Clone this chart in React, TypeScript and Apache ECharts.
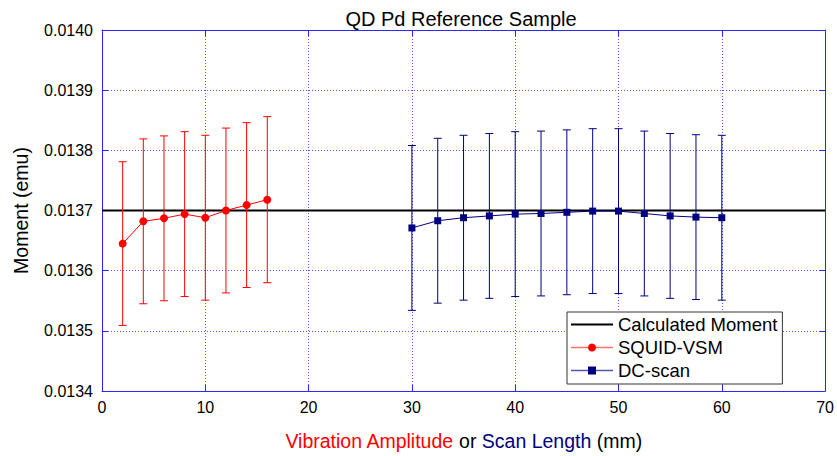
import React, { useEffect, useRef } from "react";
import * as echarts from "echarts";

const FONT = "Liberation Sans, Arial, sans-serif";

const squidX = [2, 4, 6, 8, 10, 12, 14, 16];
const squidY = [0.013645, 0.013682, 0.013687, 0.013694, 0.013688, 0.0137, 0.013709, 0.013718];
const squidErr = [0.000136, 0.000137, 0.000137, 0.000137, 0.000137, 0.000137, 0.000137, 0.000138];

const dcX = [30, 32.5, 35, 37.5, 40, 42.5, 45, 47.5, 50, 52.5, 55, 57.5, 60];
const dcY = [0.013671, 0.013683, 0.013688, 0.013691, 0.013694, 0.013695, 0.013697, 0.013699, 0.013699, 0.013695, 0.013691, 0.013689, 0.013688];
const dcErr = [0.000137, 0.000137, 0.000137, 0.000137, 0.000137, 0.000137, 0.000137, 0.000137, 0.000137, 0.000137, 0.000137, 0.000137, 0.000137];

const calcX = [0, 70];
const calcMoment = 0.0137;

const xMin = 0, xMax = 70, xStep = 10;
const yMin = 0.0134, yMax = 0.014, yStep = 0.0001;

const RED = "#ff0000";
const NAVY = "#000080";
const AXIS_BLUE = "#2a2aff";
const GRID_BLUE = "#5555ff";

function errorSeries(name: string, xs: number[], ys: number[], errs: number[], color: string) {
  return {
    name,
    type: "custom",
    data: xs.map((x, i) => [x, ys[i] - errs[i], ys[i] + errs[i]]),
    encode: { x: 0, y: [1, 2] },
    z: 3,
    renderItem: (params: any, api: any) => {
      const x = api.value(0);
      const lo = api.coord([x, api.value(1)]);
      const hi = api.coord([x, api.value(2)]);
      const cw = 4;
      const style = { stroke: color, lineWidth: 1, fill: "none" };
      return {
        type: "group",
        children: [
          { type: "line", shape: { x1: lo[0], y1: lo[1], x2: hi[0], y2: hi[1] }, style },
          { type: "line", shape: { x1: hi[0] - cw, y1: hi[1], x2: hi[0] + cw, y2: hi[1] }, style },
          { type: "line", shape: { x1: lo[0] - cw, y1: lo[1], x2: lo[0] + cw, y2: lo[1] }, style },
        ],
      };
    },
  };
}

export default function App() {
  const ref = useRef<HTMLDivElement>(null);
  useEffect(() => {
    if (!ref.current) return;
    const chart = echarts.init(ref.current, null, { renderer: "svg" });
    const mirrorAxisCommon = {
      type: "value",
      axisLine: { show: true, onZero: false, lineStyle: { color: AXIS_BLUE, width: 1 } },
      axisTick: { show: true, inside: true, length: 6, lineStyle: { color: AXIS_BLUE } },
      axisLabel: { show: false },
      splitLine: { show: false },
    };
    chart.setOption({
      animation: false,
      backgroundColor: "#ffffff",
      title: {
        text: "QD Pd Reference Sample",
        left: 461,
        top: 9,
        padding: 0,
        textAlign: "center",
        textStyle: { fontFamily: FONT, fontSize: 20, fontWeight: "normal", color: "#000" },
      },
      grid: { left: 102, right: 11, top: 30, bottom: 64.5, containLabel: false },
      legend: {
        orient: "vertical",
        left: 567,
        top: 312,
        padding: [3, 5, 4, 3],
        itemWidth: 42,
        itemHeight: 10,
        itemGap: 4,
        backgroundColor: "#ffffff",
        borderColor: "#333333",
        borderWidth: 1,
        borderRadius: 0,
        textStyle: { fontFamily: FONT, fontSize: 18.5, color: "#000" },
        data: [
          { name: "Calculated Moment", itemStyle: { opacity: 0 }, lineStyle: { color: "#000", width: 2 } },
          { name: "SQUID-VSM", itemStyle: { color: RED }, lineStyle: { color: "#ff7070", width: 1.5 } },
          { name: "DC-scan", itemStyle: { color: NAVY }, lineStyle: { color: "#5555b0", width: 1.5 } },
        ],
      },
      xAxis: [
        {
          type: "value",
          min: xMin,
          max: xMax,
          interval: xStep,
          position: "bottom",
          name: "{r|Vibration Amplitude} or {b|Scan Length} (mm)",
          nameLocation: "middle",
          nameGap: 40,
          nameTextStyle: {
            fontFamily: FONT,
            fontSize: 19.5,
            color: "#000",
            rich: {
              r: { color: RED, fontFamily: FONT, fontSize: 19.5 },
              b: { color: NAVY, fontFamily: FONT, fontSize: 19.5 },
            },
          },
          axisLine: { show: true, onZero: false, lineStyle: { color: AXIS_BLUE, width: 1 } },
          axisTick: { show: true, inside: true, length: 6, lineStyle: { color: AXIS_BLUE } },
          axisLabel: { fontFamily: FONT, fontSize: 16, color: "#000", margin: 8 },
          splitLine: { show: true, lineStyle: { color: GRID_BLUE, type: [1, 2], width: 1 } },
        },
        { ...mirrorAxisCommon, min: xMin, max: xMax, interval: xStep, position: "top" },
      ],
      yAxis: [
        {
          type: "value",
          min: yMin,
          max: yMax,
          interval: yStep,
          position: "left",
          name: "Moment (emu)",
          nameLocation: "middle",
          nameGap: 71,
          nameTextStyle: { fontFamily: FONT, fontSize: 19.5, color: "#000" },
          axisLine: { show: true, onZero: false, lineStyle: { color: AXIS_BLUE, width: 1 } },
          axisTick: { show: true, inside: true, length: 6, lineStyle: { color: AXIS_BLUE } },
          axisLabel: {
            fontFamily: FONT,
            fontSize: 16,
            color: "#000",
            margin: 9,
            formatter: (v: number) => v.toFixed(4),
          },
          splitLine: { show: true, lineStyle: { color: GRID_BLUE, type: [1, 2], width: 1 } },
        },
        { ...mirrorAxisCommon, min: yMin, max: yMax, interval: yStep, position: "right" },
      ],
      series: [
        {
          name: "Calculated Moment",
          type: "line",
          data: calcX.map((x) => [x, calcMoment]),
          symbol: "none",
          lineStyle: { color: "#000", width: 2 },
          itemStyle: { color: "#000" },
          z: 2,
          silent: true,
        },
        errorSeries("SQUID-VSM error", squidX, squidY, squidErr, RED),
        errorSeries("DC-scan error", dcX, dcY, dcErr, NAVY),
        {
          name: "SQUID-VSM",
          type: "line",
          data: squidX.map((x, i) => [x, squidY[i]]),
          symbol: "circle",
          symbolSize: 8,
          lineStyle: { color: RED, width: 1 },
          itemStyle: { color: RED },
          z: 4,
        },
        {
          name: "DC-scan",
          type: "line",
          data: dcX.map((x, i) => [x, dcY[i]]),
          symbol: "rect",
          symbolSize: 7,
          lineStyle: { color: NAVY, width: 1 },
          itemStyle: { color: NAVY },
          z: 4,
        },
      ],
    });
    return () => chart.dispose();
  }, []);
  return (
    <div
      ref={ref}
      style={{ position: "absolute", left: 0, top: 0, width: 837, height: 456, background: "#fff" }}
    />
  );
}
